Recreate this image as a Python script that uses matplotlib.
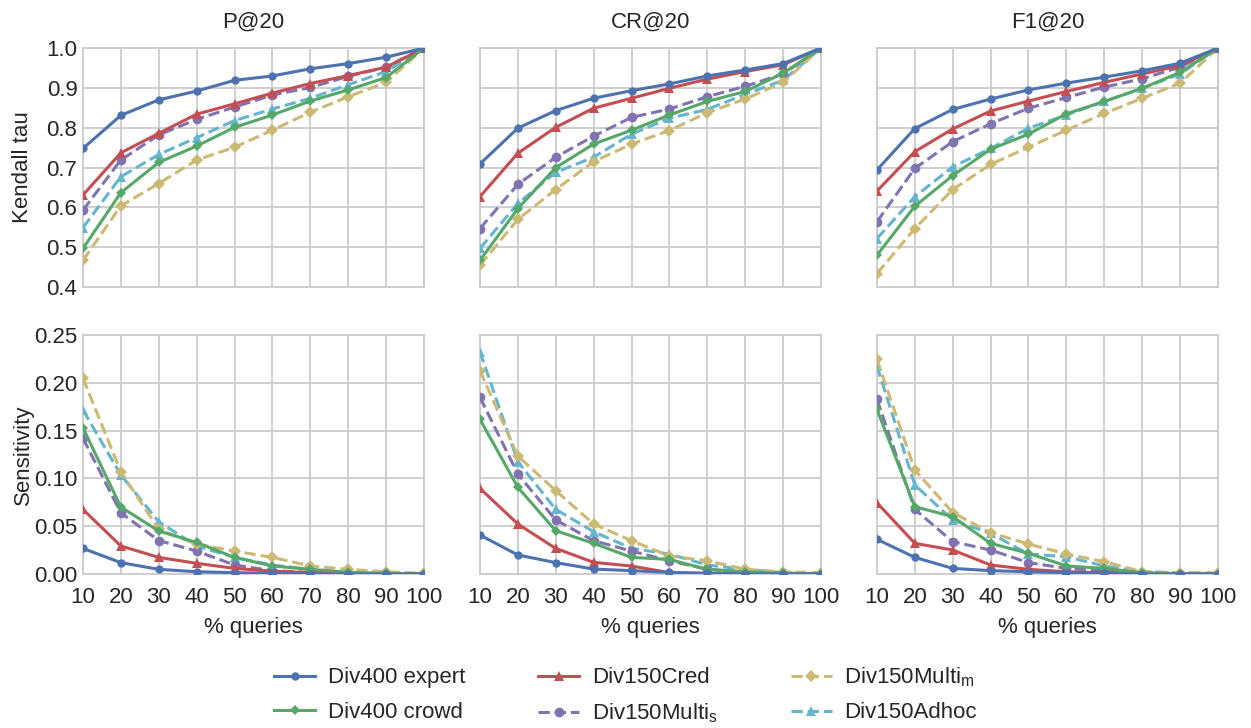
import matplotlib
matplotlib.use("Agg")
import matplotlib.pyplot as plt

# eixo x: percentual de consultas
queries = [10, 20, 30, 40, 50, 60, 70, 80, 90, 100]
metrics = ["P@20", "CR@20", "F1@20"]

series_names = ["Div400 expert", "Div400 crowd", "Div150Cred",
                "Div150Multi$_{m}$", "Div150Multi$_{s}$", "Div150Adhoc"]

# Kendall tau (linha superior)
tau_expert = [[0.748, 0.831, 0.870, 0.892, 0.919, 0.930, 0.948, 0.961, 0.977, 1.0],
              [0.709, 0.799, 0.843, 0.874, 0.893, 0.910, 0.930, 0.945, 0.961, 1.0],
              [0.694, 0.798, 0.846, 0.872, 0.895, 0.912, 0.927, 0.943, 0.962, 1.0]]
tau_crowd = [[0.497, 0.637, 0.713, 0.754, 0.801, 0.832, 0.867, 0.895, 0.926, 1.0],
             [0.467, 0.597, 0.700, 0.759, 0.794, 0.832, 0.866, 0.891, 0.937, 1.0],
             [0.480, 0.603, 0.680, 0.746, 0.784, 0.835, 0.866, 0.899, 0.939, 1.0]]
tau_cred = [[0.631, 0.737, 0.786, 0.834, 0.860, 0.887, 0.911, 0.931, 0.952, 1.0],
            [0.627, 0.736, 0.801, 0.849, 0.874, 0.899, 0.922, 0.941, 0.958, 1.0],
            [0.641, 0.740, 0.797, 0.842, 0.867, 0.891, 0.914, 0.935, 0.956, 1.0]]
tau_multi_m = [[0.467, 0.604, 0.660, 0.719, 0.751, 0.794, 0.839, 0.878, 0.914, 1.0],
               [0.455, 0.570, 0.645, 0.715, 0.759, 0.793, 0.838, 0.872, 0.914, 1.0],
               [0.434, 0.547, 0.645, 0.708, 0.751, 0.794, 0.836, 0.874, 0.912, 1.0]]
tau_multi_s = [[0.593, 0.719, 0.782, 0.821, 0.852, 0.882, 0.901, 0.929, 0.952, 1.0],
               [0.547, 0.658, 0.726, 0.779, 0.826, 0.847, 0.878, 0.904, 0.935, 1.0],
               [0.564, 0.698, 0.765, 0.810, 0.849, 0.876, 0.902, 0.923, 0.952, 1.0]]
tau_adhoc = [[0.549, 0.677, 0.733, 0.775, 0.818, 0.847, 0.874, 0.908, 0.941, 1.0],
             [0.497, 0.610, 0.688, 0.726, 0.784, 0.824, 0.846, 0.884, 0.919, 1.0],
             [0.522, 0.627, 0.702, 0.748, 0.799, 0.832, 0.866, 0.899, 0.935, 1.0]]

# Sensitivity (linha inferior)
sens_expert = [[0.0268, 0.0119, 0.0049, 0.0024, 0.0014, 0.0007, 0.0003, 0.0, 0.0, 0.0],
               [0.0408, 0.0199, 0.0119, 0.0052, 0.0035, 0.0017, 0.0007, 0.0, 0.0, 0.0],
               [0.0363, 0.0174, 0.0059, 0.0035, 0.0024, 0.0014, 0.0007, 0.0, 0.0, 0.0]]
sens_crowd = [[0.153, 0.070, 0.045, 0.033, 0.0174, 0.0084, 0.0049, 0.0017, 0.0007, 0.0],
              [0.1618, 0.0907, 0.0453, 0.0321, 0.0174, 0.0153, 0.0049, 0.0024, 0.0007, 0.0],
              [0.1722, 0.0704, 0.060, 0.0321, 0.0216, 0.0084, 0.0059, 0.0014, 0.0003, 0.0]]
sens_cred = [[0.0676, 0.0293, 0.0174, 0.0112, 0.0059, 0.003, 0.0014, 0.0007, 0.0003, 0.0],
             [0.0896, 0.0523, 0.0268, 0.0122, 0.0084, 0.0014, 0.0007, 0.0003, 0.0, 0.0],
             [0.0746, 0.0321, 0.0251, 0.0094, 0.0049, 0.0024, 0.0014, 0.0007, 0.0003, 0.0]]
sens_multi_m = [[0.2047, 0.107, 0.0467, 0.0314, 0.024, 0.0174, 0.0084, 0.0049, 0.0024, 0.0007],
                [0.2127, 0.1234, 0.0872, 0.0523, 0.0349, 0.0188, 0.0139, 0.0049, 0.0024, 0.0014],
                [0.2245, 0.1088, 0.0642, 0.0432, 0.0314, 0.0209, 0.0129, 0.0024, 0.0014, 0.0014]]
sens_multi_s = [[0.142, 0.064, 0.035, 0.024, 0.0094, 0.0035, 0.0017, 0.0007, 0.0003, 0.0],
                [0.1848, 0.1046, 0.0565, 0.0349, 0.024, 0.0139, 0.0049, 0.002, 0.0007, 0.0],
                [0.1827, 0.0676, 0.0338, 0.0251, 0.0119, 0.0059, 0.0035, 0.0014, 0.0003, 0.0]]
sens_adhoc = [[0.1715, 0.1036, 0.0547, 0.0293, 0.0174, 0.0094, 0.0049, 0.002, 0.0007, 0.0],
              [0.2326, 0.1175, 0.0676, 0.0443, 0.0268, 0.0209, 0.0094, 0.0049, 0.0014, 0.0],
              [0.2176, 0.0931, 0.0565, 0.0425, 0.0209, 0.0181, 0.0084, 0.0024, 0.0014, 0.0]]

tau_all = [tau_expert, tau_crowd, tau_cred, tau_multi_m, tau_multi_s, tau_adhoc]
sens_all = [sens_expert, sens_crowd, sens_cred, sens_multi_m, sens_multi_s, sens_adhoc]

# estilo de cada serie (cor, marcador, tamanho, linha)
colors = ["#4C72B0", "#55A868", "#C44E52", "#CCB974", "#8172B2", "#64B5CD"]
markers = ["o", "D", "^", "D", "o", "^"]
msizes = [6, 5.5, 6.5, 6.5, 7, 7]
styles = ["-", "-", "-", "--", "--", "--"]

plt.rcParams["font.family"] = ["Liberation Sans", "DejaVu Sans"]
plt.rcParams["mathtext.default"] = "regular"
text_color = "#262626"
fs = 16

fig, axes = plt.subplots(2, 3, figsize=(12.51, 7.28), dpi=100, sharex=True)
fig.subplots_adjust(left=0.0663, right=0.9736, top=0.934, bottom=0.2115,
                    wspace=0.164, hspace=0.2)

for row, (data, ylim, yticks, ylabel) in enumerate([
        (tau_all, (0.4, 1.0), [0.4, 0.5, 0.6, 0.7, 0.8, 0.9, 1.0], "Kendall tau"),
        (sens_all, (0.0, 0.25), [0.0, 0.05, 0.10, 0.15, 0.20, 0.25], "Sensitivity")]):
    for col in range(3):
        ax = axes[row][col]
        # desenha as series na ordem de empilhamento da figura
        for k in [3, 5, 4, 1, 2, 0]:
            ax.plot(queries, data[k][col], color=colors[k], marker=markers[k],
                    markersize=msizes[k], linestyle=styles[k], linewidth=2.2,
                    markeredgewidth=0, label=series_names[k], zorder=3 + (5 - k) * 0.1)
        ax.set_xlim(10, 100)
        ax.set_ylim(*ylim)
        ax.set_xticks(queries)
        ax.set_yticks(yticks)
        ax.grid(True, color="#cccccc", linewidth=1.3)
        ax.set_axisbelow(True)
        for sp in ax.spines.values():
            sp.set_color("#cccccc")
            sp.set_linewidth(1.3)
        ax.tick_params(length=0, labelsize=fs, labelcolor=text_color)
        ax.tick_params(axis="y", pad=4)
        ax.tick_params(axis="x", pad=9)
        if row == 0:
            ax.set_yticklabels(["%.1f" % v for v in yticks])
            ax.set_title(metrics[col], fontsize=fs, color=text_color, pad=15)
        else:
            ax.set_yticklabels(["%.2f" % v for v in yticks])
            ax.set_xlabel("% queries", fontsize=fs, color=text_color, labelpad=7)
        if col == 0:
            ax.set_ylabel(ylabel, fontsize=fs, color=text_color)
            ax.yaxis.set_label_coords(-0.145, 0.5)
        else:
            ax.tick_params(labelleft=False)

# legenda na ordem do original
handles, labels = axes[0][0].get_legend_handles_labels()
by_name = dict(zip(labels, handles))
leg_order = [0, 1, 2, 4, 3, 5]
fig.legend([by_name[series_names[i]] for i in leg_order],
           [series_names[i] for i in leg_order],
           loc="upper center", bbox_to_anchor=(0.5, 0.1135), ncol=3,
           frameon=False, fontsize=fs, numpoints=1, handlelength=1.85,
           handletextpad=0.55, columnspacing=3.3, labelspacing=0.6,
           labelcolor=text_color)

fig.savefig("out.png", dpi=100)
